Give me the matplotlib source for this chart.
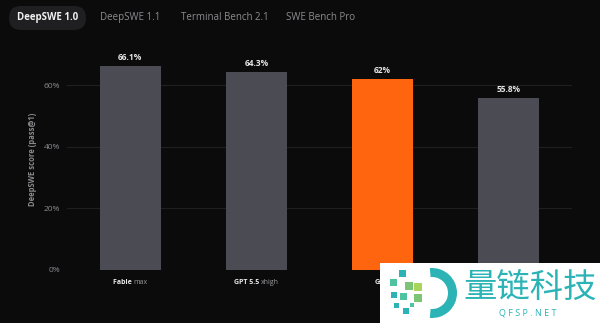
import matplotlib.pyplot as plt
import numpy as np
from matplotlib.patches import FancyBboxPatch, Rectangle, Wedge

models = ["Fable", "GPT 5.5", "Grok", ""]
efforts = ["max", "xhigh", "", ""]
scores = [66.1, 64.3, 62.0, 55.8]
score_labels = ["66.1%", "64.3%", "62%", "55.8%"]
highlight = 2
yticks = [0, 20, 40, 60]
tabs = ["DeepSWE 1.0", "DeepSWE 1.1", "Terminal Bench 2.1", "SWE Bench Pro"]

BG = "#0b0b0c"
GRAY_BAR = "#4b4b53"
ORANGE = "#ff650f"
TEAL = "#2bb3b6"

plt.rcParams['font.family'] = ['Open Sans', 'DejaVu Sans']

W, H = 600, 323
fig = plt.figure(figsize=(W / 100, H / 100), dpi=100, facecolor=BG)

def fx(px):
    return px / W

def fy(py):
    return 1 - py / H

# axes: x 67..572 px, y=0 at 270 px, 20% = 61.7 px
ymax = 72
ax = fig.add_axes([fx(67), fy(270), fx(572 - 67), (ymax * 3.083) / H])
ax.set_facecolor(BG)
x = np.arange(len(scores))
colors = [ORANGE if i == highlight else GRAY_BAR for i in range(len(scores))]
ax.bar(x, scores, width=0.485, color=colors, zorder=3)
ax.set_xlim(-0.5, len(scores) - 0.5)
ax.set_ylim(0, ymax)
ax.set_yticks(yticks)
ax.set_yticklabels([f"{t}%" for t in yticks], color="#8a8a8e", fontsize=6)
ax.tick_params(axis="y", length=0, pad=5)
ax.set_xticks([])
ax.grid(axis="y", color="#1f1f22", linewidth=0.8, zorder=0)
for s in ax.spines.values():
    s.set_visible(False)

fig.canvas.draw()
r = fig.canvas.get_renderer()
for i, v in enumerate(scores):
    ax.text(i, v + 1.3, score_labels[i], ha="center", va="bottom",
            color="#e6e6e6", fontsize=6, fontweight="bold")
    # category label: bold model name + grey effort
    t1 = ax.annotate(models[i] + (" " if efforts[i] else ""), xy=(i, 0),
                     xytext=(0, -9), textcoords="offset points",
                     ha="left", va="center", color="#e8e8e8",
                     fontsize=5, fontweight="bold")
    t2 = ax.annotate(efforts[i], xy=(i, 0), xytext=(0, -9),
                     textcoords="offset points", ha="left", va="center",
                     color="#9a9a9e", fontsize=5)
    w1 = t1.get_window_extent(r).width if models[i] else 0
    w2 = t2.get_window_extent(r).width if efforts[i] else 0
    off = -(w1 + w2) / 2 * 72 / fig.dpi
    t1.set_position((off, -9))
    t2.set_position((off + w1 * 72 / fig.dpi, -9))

ax.set_ylabel("DeepSWE score (pass@1)", color="#8a8a8e", fontsize=5.5,
              fontweight="bold", labelpad=5)

# tabs
fig.patches.append(FancyBboxPatch((fx(9), fy(30)), fx(77), 24 / H,
                                  boxstyle="round,pad=0,rounding_size=0.02",
                                  transform=fig.transFigure, facecolor="#1f1f21",
                                  edgecolor="none", mutation_aspect=W / H))
tab_x = [17, 100, 181, 286]
for i, (label, px) in enumerate(zip(tabs, tab_x)):
    fig.text(fx(px), fy(17.5), label, ha="left", va="center", fontsize=7,
             color="#f0f0f0" if i == 0 else "#8c8c90",
             fontweight="bold" if i == 0 else "normal")

# watermark overlay
fig.patches.append(Rectangle((fx(380), 0), fx(220), 60 / H,
                             transform=fig.transFigure, facecolor="white",
                             edgecolor="none", zorder=10))
px_in = 1 / fig.dpi
fig.patches.append(Wedge((432 * px_in, (H - 293) * px_in), 25 * px_in, -95, 95,
                         width=9 * px_in, transform=fig.dpi_scale_trans,
                         facecolor=TEAL, zorder=11))
sq = [(390, 279, 7, "#4fc3a0"), (399, 270, 7, TEAL), (405, 282, 8, "#7cc576"),
      (414, 283, 8, "#a7d65a"), (391, 292, 6, TEAL), (400, 293, 7, "#4fc3a0"),
      (414, 294, 8, "#7cc576"), (394, 303, 5, TEAL), (403, 308, 6, TEAL),
      (410, 303, 4, "#4fc3a0")]
for px, py, s, c in sq:
    fig.patches.append(Rectangle((fx(px), fy(py + s)), fx(s), s / H,
                                 transform=fig.transFigure, facecolor=c,
                                 edgecolor="none", zorder=11))
fig.text(fx(530), fy(287), "量链科技", ha="center", va="center", fontsize=24,
         color=TEAL, family=["Noto Sans CJK SC", "DejaVu Sans"], zorder=12)
fig.text(fx(528), fy(313), "Q F S P . N E T", ha="center", va="center",
         fontsize=6.5, color=TEAL, zorder=12)

fig.savefig("out.png", dpi=100, facecolor=BG)
